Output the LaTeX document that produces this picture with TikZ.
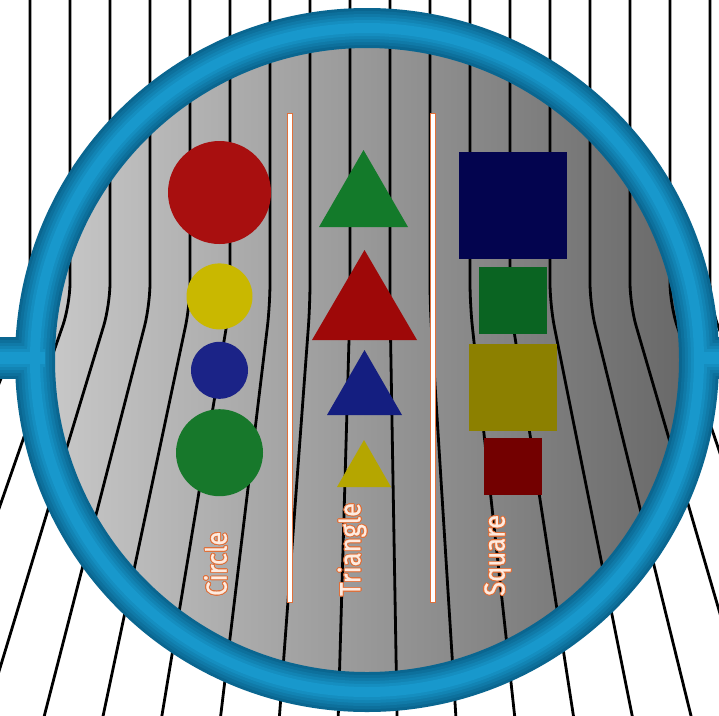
\documentclass[tikz,border=0pt]{standalone}
\usepackage{fontspec}
\usepackage{contour}
\usetikzlibrary{positioning}
\newfontfamily\labelfont[FakeBold=0.8]{Fira Sans}
\contourlength{1pt}
\definecolor{ringdark}{HTML}{0A6690}
\definecolor{ringlight}{HTML}{1898CC}
\definecolor{lenslight}{HTML}{CACACA}
\definecolor{lensdark}{HTML}{666666}
\definecolor{sepedge}{HTML}{E0703A}
\definecolor{lbltext}{HTML}{FDEBE0}
\definecolor{cred}{HTML}{A80F0F}
\definecolor{cyellow}{HTML}{C9B800}
\definecolor{cblue}{HTML}{1B2387}
\definecolor{cgreen}{HTML}{17782B}
\definecolor{tgreen}{HTML}{137A2A}
\definecolor{tred}{HTML}{9E0808}
\definecolor{tblue}{HTML}{141E80}
\definecolor{tyellow}{HTML}{B5A600}
\definecolor{snavy}{HTML}{03044F}
\definecolor{sgreen}{HTML}{0A6422}
\definecolor{solive}{HTML}{8C8000}
\definecolor{sred}{HTML}{730000}

\begin{document}
\begin{tikzpicture}[
    x=1pt, y=-1pt,
    stripe/.style={line width=2.8pt, black, rounded corners=22pt},
    disc/.style={circle, inner sep=0pt, minimum size=#1},
    sq/.style={rectangle, inner sep=0pt, minimum size=#1},
    sepbar/.style={line width=5.6pt, sepedge},
    lbl/.style={rotate=90, anchor=west, inner sep=0pt, text=lbltext,
        font={\labelfont\fontsize{29}{32}\selectfont}},
    node distance=10pt
]
\useasboundingbox (0,0) rectangle (719,715);
\clip (0,0) rectangle (719,715);
\fill[white] (0,0) rectangle (719,715);

\shade[left color=lenslight, right color=lensdark] (367,360) circle (333);

\foreach \k in {0,...,17}{
  \pgfmathsetmacro\xt{30+40*\k}
  \pgfmathsetmacro\xb{375+(\xt-375)*1.486}
  \draw[stripe] (\xt,-5) -- (\xt,305) -- (\xb,730);
}

% circles
\node[disc=103pt, fill=cred] (redcircle) at (219.5,192.5) {};
\node[disc=66pt, fill=cyellow, below=19pt of redcircle] (yellowcircle) {};
\node[disc=57pt, fill=cblue, below=12pt of yellowcircle] (bluecircle) {};
\node[disc=87pt, fill=cgreen, below=10pt of bluecircle] (greencircle) {};

% triangles
\fill[tgreen] (319,227) -- (408,227) -- (363.5,150) -- cycle;
\fill[tred] (312,340) -- (417,340) -- (364.5,250) -- cycle;
\fill[tblue] (327,415) -- (402,415) -- (364.5,350) -- cycle;
\fill[tyellow] (337,487) -- (391,487) -- (364,440) -- cycle;

% squares
\node[sq=107pt, minimum width=108pt, fill=snavy] (navysquare) at (513,205.5) {};
\node[sq=67pt, minimum width=68pt, fill=sgreen, below=8pt of navysquare] (greensquare) {};
\node[sq=87pt, minimum width=88pt, fill=solive, below=9pt of greensquare] (olivesquare) {};
\node[sq=57pt, minimum width=58pt, fill=sred, below=7pt of olivesquare] (redsquare) {};

% separators
\draw[sepbar] (290,113) -- (290,603);
\draw[white, line width=3.4pt] (290,114) -- (290,602);
\draw[sepbar] (433,113) -- (433,603);
\draw[white, line width=3.4pt] (433,114) -- (433,602);

\node[lbl] (circlelbl) at (216,596) {\scalebox{0.88}[1]{\contour{sepedge}{Circle}}};
\node[lbl] (trianglelbl) at (352.5,596) {\scalebox{0.88}[1]{\contour{sepedge}{Triangle}}};
\node[lbl] (squarelbl) at (498,596) {\scalebox{0.88}[1]{\contour{sepedge}{Square}}};

% ring
\foreach \w/\m in {42/0,36/20,30/40,24/60,18/80,12/100}{
  \draw[ringlight!\m!ringdark, line width=\w pt] (-5,358) -- (45,358) (700,358) -- (725,358);
  \draw[ringlight!\m!ringdark, line width=\w pt-2pt] (367,360) circle (332);
}
\end{tikzpicture}
\end{document}
